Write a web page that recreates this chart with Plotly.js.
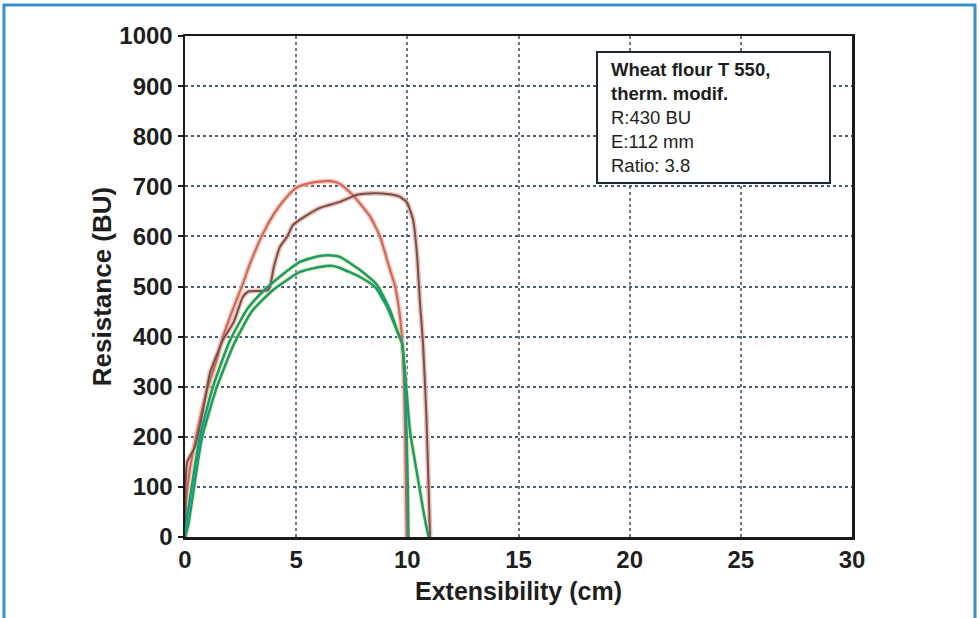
<!DOCTYPE html>
<html>
<head>
<meta charset="utf-8">
<script src="https://cdn.plot.ly/plotly-3.0.1.min.js"></script>
<style>
  html, body { margin: 0; padding: 0; background: #ffffff; }
  #chart { width: 979px; height: 618px; }
</style>
</head>
<body>
<div id="chart"></div>
<script>
// Smooth red curve (peak ~710 BU)
const redX = [0, 0.05, 0.2, 0.5, 1.0, 1.4, 1.7, 2.2, 2.6, 2.92, 3.5, 4.0, 4.5, 5.0, 5.5, 6.0, 6.6, 7.0, 7.56, 8.32, 8.77, 9.13, 9.45, 9.67, 9.8, 9.88, 9.93, 9.97];
const redY = [0, 70, 130, 200, 295, 350, 399, 460, 505, 545, 605, 645, 675, 697, 705, 709, 710, 704, 682, 640, 600, 547, 500, 440, 370, 250, 120, 0];

// Dark stepped curve (plateau ~685 BU)
const darkX = [0, 0.03, 0.1, 0.45, 0.8, 1.12, 1.4, 1.7, 2.2, 2.6, 2.85, 3.75, 4.0, 4.27, 4.6, 4.86, 5.4, 6.07, 6.97, 7.74, 8.5, 9.2, 9.67, 9.99, 10.26, 10.43, 10.57, 10.7, 10.85, 10.95, 11.02];
const darkY = [0, 110, 150, 180, 250, 327, 360, 393, 430, 479, 490, 493, 540, 579, 600, 623, 640, 657, 669, 683, 686, 684, 679, 667, 633, 567, 467, 390, 250, 110, 0];

// Upper green curve (peak ~562 BU)
const greenAX = [0, 0.05, 0.67, 1.26, 2.0, 2.8, 3.5, 4.14, 5.17, 6.07, 6.6, 6.97, 7.87, 8.64, 9.22, 9.58, 9.76, 9.9, 9.97, 10.02, 10.05];
const greenAY = [0, 25, 200, 300, 390, 455, 490, 515, 549, 561, 562, 559, 533, 503, 453, 407, 387, 300, 200, 100, 0];

// Lower green curve (peak ~541 BU)
const greenBX = [0, 0.15, 0.75, 1.4, 2.2, 3.0, 3.96, 5.17, 6.07, 6.66, 6.97, 7.87, 8.55, 9.09, 9.58, 9.76, 9.95, 10.1, 10.2, 10.5, 10.75, 10.93, 10.96];
const greenBY = [0, 25, 195, 295, 385, 450, 493, 529, 539, 541, 537, 519, 499, 459, 407, 387, 300, 220, 188, 110, 45, 5, 0];

const xTicks = [0, 5, 10, 15, 20, 25, 30];
const yTicks = [0, 100, 200, 300, 400, 500, 600, 700, 800, 900, 1000];

const boxLines = ["<b>Wheat flour T 550,</b>", "<b>therm. modif.</b>", "R:430 BU", "E:112 mm", "Ratio: 3.8"];

function line(x, y, color, width, opacity) {
  return { x: x, y: y, type: 'scatter', mode: 'lines', showlegend: false, hoverinfo: 'skip',
           line: { color: color, width: width, shape: 'spline', smoothing: 0.5 }, opacity: opacity };
}

const traces = [
  line(redX, redY, '#f3b7a8', 5, 0.8),
  line(darkX, darkY, '#f0b0a2', 5, 0.8),
  line(greenAX, greenAY, '#ece37a', 4.5, 0.7),
  line(greenBX, greenBY, '#ece37a', 4.5, 0.7),
  line(redX, redY, '#c9675a', 2, 1),
  line(darkX, darkY, '#6f5150', 2, 1),
  line(greenAX, greenAY, '#159c7c', 2.5, 1),
  line(greenBX, greenBY, '#159c7c', 2.5, 1)
];

const fam = 'Liberation Sans, Arial, sans-serif';
const tickFont = { family: fam, size: 24, color: '#1e1e1e', weight: 'bold' };

const layout = {
  width: 979, height: 618,
  margin: { l: 185, r: 127, t: 36, b: 81 },
  paper_bgcolor: '#ffffff', plot_bgcolor: '#ffffff',
  showlegend: false,
  xaxis: {
    range: [0, 30], tickvals: xTicks, ticktext: xTicks.map(String),
    showgrid: true, gridcolor: '#6a7888', griddash: 'dot', gridwidth: 2,
    zeroline: false, showline: true, linecolor: '#1a1a1a', linewidth: 2.5, mirror: true,
    ticks: '', tickfont: tickFont,
    title: { text: '<b>Extensibility (cm)</b>', font: { family: fam, size: 25, color: '#1e1e1e' }, standoff: 10 }
  },
  yaxis: {
    range: [0, 1000], tickvals: yTicks, ticktext: yTicks.map(String),
    showgrid: true, gridcolor: '#4d5d70', griddash: 'dot', gridwidth: 2,
    zeroline: false, showline: true, linecolor: '#1a1a1a', linewidth: 2.5, mirror: true,
    ticks: 'outside', ticklen: 5, tickwidth: 2, tickcolor: '#1a1a1a', tickfont: tickFont,
    title: { text: '<b>Resistance (BU)</b>', font: { family: fam, size: 26, color: '#1e1e1e' }, standoff: 0 }
  },
  shapes: [
    { type: 'rect', xref: 'paper', yref: 'paper', x0: 0.6177, x1: 0.967, y0: 0.7066, y1: 0.968,
      line: { color: '#1e2a30', width: 2 }, fillcolor: '#ffffff', layer: 'above' },
    { type: 'path', xref: 'paper', yref: 'paper',
      path: 'M -0.2714 -0.25 L -0.2714 1.0619 L 1.1844 1.0619 L 1.1844 -0.25',
      line: { color: '#3a8fc6', width: 3 } }
  ],
  annotations: [
    { xref: 'paper', yref: 'paper', x: 0.635, y: 0.958, xanchor: 'left', yanchor: 'top',
      align: 'left', showarrow: false, text: boxLines.join('<br>'),
      font: { family: fam, size: 18.5, color: '#1e1e1e' } }
  ]
};

Plotly.newPlot('chart', traces, layout, { displayModeBar: false, staticPlot: true });
</script>
</body>
</html>
